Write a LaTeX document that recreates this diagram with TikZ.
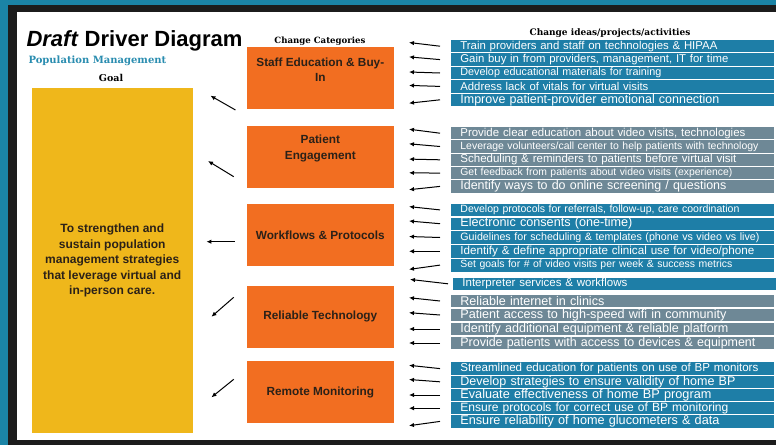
\documentclass[tikz,border=0pt]{standalone}
\usepackage{fontspec}
\setmainfont{Liberation Sans}
\newfontfamily\headserif{DejaVu Serif}
\usetikzlibrary{arrows.meta}

\definecolor{frameteal}{HTML}{1B84A6}
\definecolor{framedark}{HTML}{1C1C1C}
\definecolor{goalyellow}{HTML}{EFB71B}
\definecolor{catorange}{HTML}{F26E21}
\definecolor{ideablue}{HTML}{1E7EA7}
\definecolor{ideagrey}{HTML}{6E8896}
\definecolor{popteal}{HTML}{2A8DB0}
\definecolor{darktext}{HTML}{2B2118}

% squeeze a change idea to the width it takes in its row
\newcommand{\fitidea}[2]{\resizebox{#1pt}{!}{#2}}

\tikzset{
  goalbox/.style={fill=goalyellow, minimum width=161pt, minimum height=344.7pt, inner sep=0pt},
  catbox/.style={fill=catorange, minimum width=147.3pt, minimum height=62pt, inner sep=0pt},
  cattext/.style={text=darktext, align=center, font=\bfseries\fontsize{11.8}{15.5}\selectfont},
  idea/.style={anchor=west, draw=white, line width=0.8pt, minimum height=13.6pt, inner ysep=0pt,
    inner xsep=10pt, text width=304pt, align=left, text=white, font=\fontsize{12}{12}\selectfont},
  heading/.style={anchor=base, font=\headserif\bfseries\fontsize{9}{9}\selectfont},
  arr/.style={-{Latex[length=5pt,width=4.5pt]}, line width=1pt}
}

\begin{document}
\begin{tikzpicture}[x=1pt,y=-1pt]
    % Frame
    \useasboundingbox (0,0) rectangle (776,445);
    \fill[frameteal] (0,0) rectangle (776,445);
    \fill[framedark] (8,5) rectangle (776,445);
    \fill[white] (17,12) rectangle (776,440);

    % Headings
    \node[anchor=base west, font=\bfseries\fontsize{22}{22}\selectfont] (title) at (23,46.7) {\textit{Draft} Driver Diagram};
    \node[anchor=base west, text=popteal, font=\headserif\bfseries\fontsize{10}{10}\selectfont] (sub) at (25,63) {Population Management};
    \node[heading, font=\headserif\bfseries\fontsize{9.5}{9.5}\selectfont] (goalhead) at (111,81.7) {Goal};
    \node[heading, font=\headserif\bfseries\fontsize{8.6}{8.6}\selectfont] (cathead) at (320,43.5) {Change Categories};
    \node[heading] (ideahead) at (610,35) {Change ideas/projects/activities};

    % Goal
    \node[goalbox, cattext, font=\bfseries\fontsize{12}{15.5}\selectfont] (goal) at (112.2,260.7)
        {To strengthen and\\sustain population\\management strategies\\that leverage virtual and\\in-person care.};

    % Change categories
    \node[catbox] (c1) at (320.3,77.8) {};
    \node[cattext] (c1t) at ([yshift=8pt]c1.center) {Staff Education \& Buy-\\In};
    \node[catbox] (c2) at (320.3,156.7) {};
    \node[cattext] (c2t) at ([yshift=8.4pt]c2.center) {Patient\\Engagement};
    \node[catbox, cattext] (c3) at (320.3,235.3) {Workflows \& Protocols};
    \node[catbox, cattext] (c4) at (320.3,316.6) {Reliable Technology};
    \node[catbox, cattext] (c5) at (320.3,392.2) {Remote Monitoring};

    % Staff education ideas
    \node[idea, fill=ideablue] (st1) at (450,46.2) {\fitidea{257}{Train providers and staff on technologies \& HIPAA}};
    \node[idea, fill=ideablue] (st2) at (450,59.6) {\fitidea{268}{Gain buy in from providers, management, IT for time}};
    \node[idea, fill=ideablue] (st3) at (450,73.0) {\fitidea{201}{Develop educational materials for training}};
    \node[idea, fill=ideablue] (st4) at (450,86.4) {\fitidea{188}{Address lack of vitals for virtual visits}};
    \node[idea, fill=ideablue] (st5) at (450,99.8) {\fitidea{259}{Improve patient-provider emotional connection}};

    % Patient engagement ideas
    \node[idea, fill=ideagrey] (pe1) at (450,133.2) {\fitidea{285}{Provide clear education about video visits, technologies}};
    \node[idea, fill=ideagrey] (pe2) at (450,146.5) {\fitidea{298}{Leverage volunteers/call center to help patients with technology}};
    \node[idea, fill=ideagrey] (pe3) at (450,159.8) {\fitidea{276}{Scheduling \& reminders to patients before virtual visit}};
    \node[idea, fill=ideagrey] (pe4) at (450,173.1) {\fitidea{272}{Get feedback from patients about video visits (experience)}};
    \node[idea, fill=ideagrey] (pe5) at (450,186.4) {\fitidea{266}{Identify ways to do online screening / questions}};

    % Workflow ideas
    \node[idea, fill=ideablue] (wf1) at (450,209.9) {\fitidea{279}{Develop protocols for referrals, follow-up, care coordination}};
    \node[idea, fill=ideablue] (wf2) at (450,223.7) {\fitidea{172}{Electronic consents (one-time)}};
    \node[idea, fill=ideablue] (wf3) at (450,237.5) {\fitidea{299}{Guidelines for scheduling \& templates (phone vs video vs live)}};
    \node[idea, fill=ideablue] (wf4) at (450,251.3) {\fitidea{294}{Identify \& define appropriate clinical use for video/phone}};
    \node[idea, fill=ideablue] (wf5) at (450,265.1) {\fitidea{272}{Set goals for \# of video visits per week \& success metrics}};
    \node[idea, fill=ideablue] (wf6) at (452,283.8) {\fitidea{165}{Interpreter services \& workflows}};

    % Technology ideas
    \node[idea, fill=ideagrey] (rt1) at (450,301) {\fitidea{144}{Reliable internet in clinics}};
    \node[idea, fill=ideagrey] (rt2) at (450,315) {\fitidea{266}{Patient access to high-speed wifi in community}};
    \node[idea, fill=ideagrey] (rt3) at (450,329) {\fitidea{268}{Identify additional equipment \& reliable platform}};
    \node[idea, fill=ideagrey] (rt4) at (450,343) {\fitidea{295}{Provide patients with access to devices \& equipment}};

    % Monitoring ideas
    \node[idea, fill=ideablue] (rm1) at (450,368.6) {\fitidea{298}{Streamlined education for patients on use of BP monitors}};
    \node[idea, fill=ideablue] (rm2) at (450,381.8) {\fitidea{275}{Develop strategies to ensure validity of home BP}};
    \node[idea, fill=ideablue] (rm3) at (450,395.0) {\fitidea{251}{Evaluate effectiveness of home BP program}};
    \node[idea, fill=ideablue] (rm4) at (450,408.2) {\fitidea{268}{Ensure protocols for correct use of BP monitoring}};
    \node[idea, fill=ideablue] (rm5) at (450,421.4) {\fitidea{259}{Ensure reliability of home glucometers \& data}};

    % Categories to goal
    \draw[arr] ([shift={(-11,32.2)}]c1.west) -- ++(-25,-14.3);
    \draw[arr] ([shift={(-12.7,20)}]c2.west) -- ++(-25.7,-15.7);
    \draw[arr] ([shift={(-11.7,6.4)}]c3.west) -- ++(-28.3,0);
    \draw[arr] ([shift={(-12.7,-19.3)}]c4.west) -- ++(-22.3,19.4);
    \draw[arr] ([shift={(-12.7,-12.9)}]c5.west) -- ++(-22.3,18);

    % Ideas to categories
    \foreach \n/\d in {st1/-3.7, st2/-2.7, st3/-1, st4/-1, st5/3.4,
                       pe1/-4, pe2/-2.7, pe3/-0.7, pe4/-0.3, pe5/3.3,
                       wf1/-3.3, wf2/-2.7, wf3/-1, wf4/0, wf5/4.3,
                       rt1/-3.3, rt2/-2.3, rt3/0, rt4/0,
                       rm1/-3.3, rm2/-2.3, rm3/0, rm4/0, rm5/4.3}{
        \draw[arr] ([xshift=-10pt]\n.west) -- ++(-31,\d);
    }
    \draw[arr] ([xshift=-4pt]wf6.west) -- ++(-38,-4.4);

\end{tikzpicture}
\end{document}
